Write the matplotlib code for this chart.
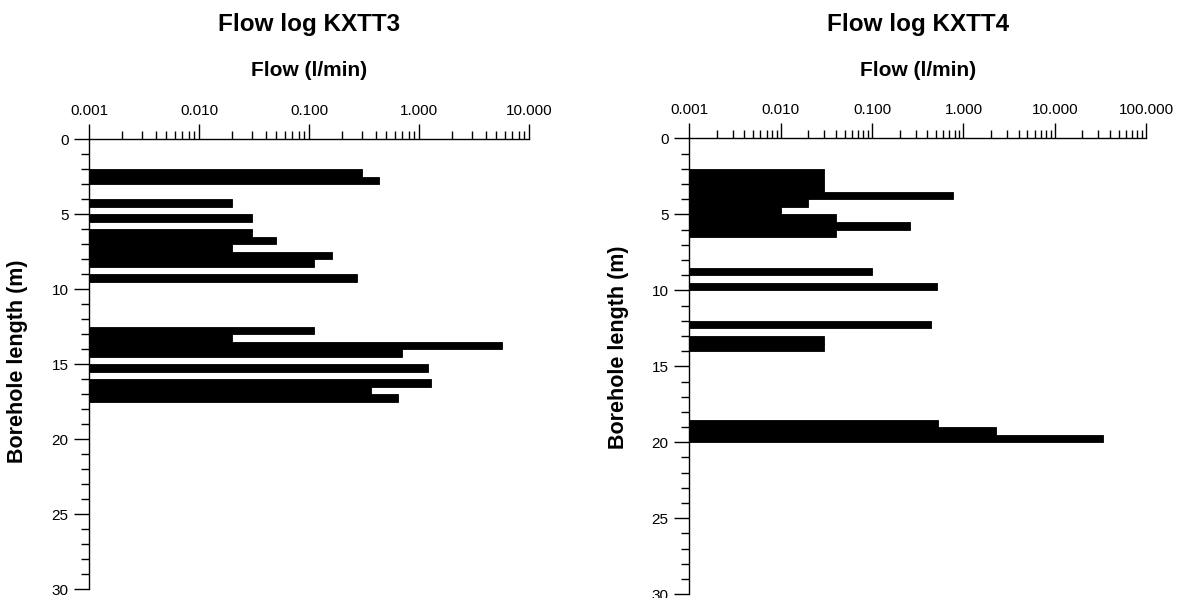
import numpy as np
import matplotlib.pyplot as plt
from matplotlib.ticker import LogLocator, FormatStrFormatter, MultipleLocator, NullFormatter

plt.rcParams['font.family'] = ['Liberation Sans', 'DejaVu Sans']

# KXTT3: top of each 0.5 m section (m) and flow (l/min)
kxtt3_top = [2.0, 2.5, 4.0, 5.0, 6.0, 6.5, 7.0, 7.5, 8.0, 9.0,
             12.5, 13.0, 13.5, 14.0, 15.0, 16.0, 16.5, 17.0]
kxtt3_flow = [0.30, 0.43, 0.020, 0.030, 0.030, 0.050, 0.020, 0.16, 0.11, 0.27,
              0.11, 0.020, 5.7, 0.70, 1.19, 1.29, 0.36, 0.64]

# KXTT4
kxtt4_top = [2.0, 2.5, 3.0, 3.5, 4.0, 4.5, 5.0, 5.5, 6.0, 8.5, 9.5,
             12.0, 13.0, 13.5, 18.5, 19.0, 19.5]
kxtt4_flow = [0.030, 0.030, 0.030, 0.76, 0.020, 0.010, 0.040, 0.26, 0.040, 0.10, 0.51,
              0.44, 0.030, 0.030, 0.52, 2.28, 33.8]

section = 0.5
xmin = 0.001

fig = plt.figure(figsize=(11.86, 5.98), dpi=100)
ax1 = fig.add_axes([0.0753, 0.0145, 0.3710, 0.7525])
ax2 = fig.add_axes([0.5812, 0.0062, 0.3853, 0.7625])


def flow_log(ax, top, flow, xmax, title, ylab_x, ylab_y, title_y, xlab_y):
    top = np.array(top)
    flow = np.array(flow)
    ax.barh(top, flow - xmin, left=xmin, height=section, align='edge',
            color='black', edgecolor='black', linewidth=0.6)
    ax.set_xscale('log')
    ax.set_xlim(xmin, xmax)
    ax.set_ylim(30, 0)

    ax.xaxis.set_major_locator(LogLocator(base=10, numticks=10))
    ax.xaxis.set_minor_locator(LogLocator(base=10, subs=np.arange(2, 10), numticks=20))
    ax.xaxis.set_major_formatter(FormatStrFormatter('%.3f'))
    ax.xaxis.set_minor_formatter(NullFormatter())
    ax.yaxis.set_major_locator(MultipleLocator(5))
    ax.yaxis.set_minor_locator(MultipleLocator(1))

    ax.tick_params(axis='x', which='both', top=True, labeltop=True,
                   bottom=False, labelbottom=False, direction='out', width=1)
    ax.tick_params(axis='x', which='major', length=10.5, pad=5, labelsize=11)
    ax.tick_params(axis='x', which='minor', length=5.5)
    ax.tick_params(axis='y', which='both', direction='out', width=1)
    ax.tick_params(axis='y', which='major', length=11, pad=4, labelsize=11)
    ax.tick_params(axis='y', which='minor', length=5.5)

    for s in ['right', 'bottom']:
        ax.spines[s].set_visible(False)
    for s in ['top', 'left']:
        ax.spines[s].set_linewidth(1)

    ax.set_ylabel('Borehole length (m)', fontsize=15.5, fontweight='bold')
    ax.yaxis.set_label_coords(ylab_x, ylab_y)
    ax.text(0.5, xlab_y, 'Flow (l/min)', transform=ax.transAxes, ha='center', va='baseline',
            fontsize=15, fontweight='bold')
    ax.text(0.5, title_y, title, transform=ax.transAxes, ha='center', va='baseline',
            fontsize=17.5, fontweight='bold')


flow_log(ax1, kxtt3_top, kxtt3_flow, 10, 'Flow log KXTT3', -0.139, 0.506, 1.2407, 1.1418)
flow_log(ax2, kxtt4_top, kxtt4_flow, 100, 'Flow log KXTT4', -0.133, 0.541, 1.2353, 1.1377)

fig.savefig('out.png', dpi=100)
